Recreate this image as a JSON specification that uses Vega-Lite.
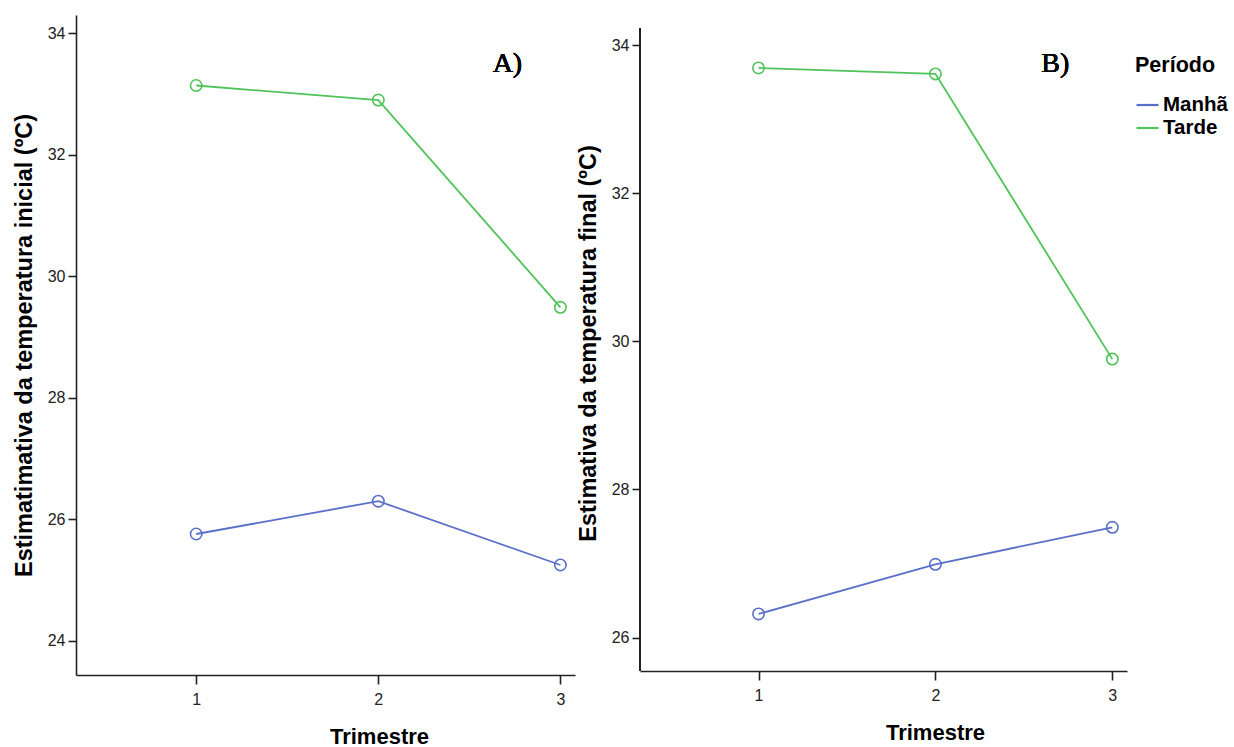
{
  "$schema": "https://vega.github.io/schema/vega-lite/v6.json",
  "background": "white",
  "padding": {"left": 12, "top": 15, "right": 0, "bottom": 0},
  "config": {
    "view": {"stroke": null},
    "font": "Liberation Sans",
    "axis": {
      "grid": false,
      "domainColor": "#222222",
      "domainWidth": 1.6,
      "tickColor": "#222222",
      "tickWidth": 1.6,
      "tickSize": 9,
      "labelFont": "Liberation Sans",
      "labelFontSize": 16,
      "labelColor": "#222222",
      "labelPadding": 3,
      "titleFont": "Liberation Sans",
      "titleFontSize": 23.5,
      "titleFontWeight": "bold",
      "titleColor": "#000000"
    },
    "axisX": {"labelPadding": 7, "titlePadding": 19, "titleFontSize": 22},
    "axisY": {"tickSize": 8, "titlePadding": 11},
    "concat": {"spacing": 1}
  },
  "datasets": {
    "a": [
      {"Trimestre": 1, "Periodo": "Manhã", "Estimativa": 25.76},
      {"Trimestre": 2, "Periodo": "Manhã", "Estimativa": 26.30},
      {"Trimestre": 3, "Periodo": "Manhã", "Estimativa": 25.25},
      {"Trimestre": 1, "Periodo": "Tarde", "Estimativa": 33.14},
      {"Trimestre": 2, "Periodo": "Tarde", "Estimativa": 32.90},
      {"Trimestre": 3, "Periodo": "Tarde", "Estimativa": 29.49}
    ],
    "b": [
      {"Trimestre": 1, "Periodo": "Manhã", "Estimativa": 26.32},
      {"Trimestre": 2, "Periodo": "Manhã", "Estimativa": 26.99},
      {"Trimestre": 3, "Periodo": "Manhã", "Estimativa": 27.49},
      {"Trimestre": 1, "Periodo": "Tarde", "Estimativa": 33.69},
      {"Trimestre": 2, "Periodo": "Tarde", "Estimativa": 33.61},
      {"Trimestre": 3, "Periodo": "Tarde", "Estimativa": 29.76}
    ]
  },
  "resolve": {"scale": {"color": "shared"}, "legend": {"color": "shared"}},
  "hconcat": [
    {
      "width": 499,
      "height": 660,
      "data": {"name": "a"},
      "encoding": {
        "x": {"field": "Trimestre", "type": "quantitative", "scale": {"domain": [0.34, 3.08], "nice": false, "zero": false}, "axis": {"values": [1, 2, 3], "format": "d", "title": "Trimestre", "titleX": 303}},
        "y": {"field": "Estimativa", "type": "quantitative", "scale": {"domain": [23.44, 34.3], "nice": false, "zero": false}, "axis": {"values": [24, 26, 28, 30, 32, 34], "title": "Estimatimativa da temperatura inicial (ºC)"}}
      },
      "layer": [
        {"mark": {"type": "line", "strokeWidth": 1.8},
         "encoding": {"color": {"field": "Periodo", "type": "nominal", "scale": {"domain": ["Manhã", "Tarde"], "range": ["#5a6fc8", "#50c35a"]},
          "legend": {"title": "Período", "orient": "none", "legendX": 1059, "legendY": 40, "symbolType": "stroke", "symbolSize": 484, "symbolStrokeWidth": 2.2, "titleFont": "Liberation Sans", "titleFontSize": 21.5, "titleFontWeight": "bold", "titleColor": "#000000", "titlePadding": 16, "labelFont": "Liberation Sans", "labelFontSize": 20.5, "labelFontWeight": "bold", "labelColor": "#000000", "rowPadding": 0, "labelOffset": 3}}}},
        {"mark": {"type": "point", "filled": false, "size": 130, "strokeWidth": 1.6, "opacity": 1},
         "encoding": {"color": {"field": "Periodo", "type": "nominal"}}},
        {"mark": {"type": "text", "text": "A)", "font": "Liberation Serif", "fontSize": 28, "fontWeight": "normal", "align": "right", "baseline": "alphabetic", "fill": "#000000", "stroke": null},
         "encoding": {"x": {"datum": 2.79}, "y": {"datum": 33.36}}}
      ]
    },
    {
      "width": 487,
      "height": 656,
      "data": {"name": "b"},
      "encoding": {
        "x": {"field": "Trimestre", "type": "quantitative", "scale": {"domain": [0.33, 3.083], "nice": false, "zero": false}, "axis": {"values": [1, 2, 3], "format": "d", "title": "Trimestre", "titleX": 295}},
        "y": {"field": "Estimativa", "type": "quantitative", "scale": {"domain": [25.55, 34.405], "nice": false, "zero": false}, "axis": {"values": [26, 28, 30, 32, 34], "domain": false, "title": "Estimativa da temperatura final (ºC)"}}
      },
      "layer": [
        {"mark": {"type": "rule", "color": "#222222", "strokeWidth": 1.6},
         "encoding": {"x": {"datum": 0.33}, "y": {"datum": 25.55}, "y2": {"datum": 34.23}}},
        {"mark": {"type": "line", "strokeWidth": 1.8},
         "encoding": {"color": {"field": "Periodo", "type": "nominal"}}},
        {"mark": {"type": "point", "filled": false, "size": 130, "strokeWidth": 1.6, "opacity": 1},
         "encoding": {"color": {"field": "Periodo", "type": "nominal"}}},
        {"mark": {"type": "text", "text": "B)", "font": "Liberation Serif", "fontSize": 28, "fontWeight": "normal", "align": "right", "baseline": "alphabetic", "fill": "#000000", "stroke": null},
         "encoding": {"x": {"datum": 2.757}, "y": {"datum": 33.64}}}
      ]
    }
  ]
}
